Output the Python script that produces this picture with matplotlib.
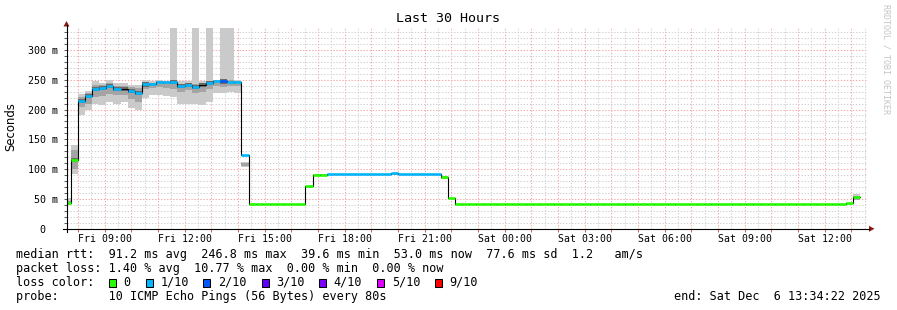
import numpy as np
import matplotlib
matplotlib.use("Agg")
import matplotlib.pyplot as plt
from matplotlib.patches import Polygon, Rectangle
from matplotlib.lines import Line2D

# ---- data (hours since Fri 00:00, 16 min consolidated bins) ----
first_bin = 7 + 28 / 60
bin_len = 16 / 60
t_end = 24 + 13 + 34 / 60 + 22 / 3600
t_start = t_end - 30

# median rtt in ms for every bin
median = ([44, 115, 214.5, 222, 235, 236, 240, 234, 234, 231, 228, 242, 242,
           245.5, 245.5, 245.5, 239, 241, 238, 241, 244, 247, 247, 246, 246, 123]
          + [40.8] * 8 + [71, 91, 91] + [91.5] * 9 + [93] + [91.5] * 6
          + [87, 51.5] + [40.8] * 55 + [42.5, 53])

# loss color index per bin (-1 = no colour, only the black line)
loss = ([0, 0, 1, 1, 1, 1, 1, 1, -1, 1, 1, 1, 1, 1, 1, 1, 1, 1, 1, -1, 1, 1, 2, 1, 1, 1]
        + [0] * 8 + [0, 0, 0] + [1] * 9 + [1] + [1] * 6 + [0, 0] + [0] * 55 + [0, 0])

# smoke: full range of the pings
smoke_lo = ([40, 92, 191, 199, 210, 208, 213, 210, 213, 202, 199, 220, 224,
             224, 222, 221, 210, 210, 210, 207, 213, 228, 227, 230, 228, 104]
            + [40.5] * 8 + [68, 89.5, 89.5] + [90] * 9 + [90.5] + [90] * 6
            + [84, 50] + [40.5] * 55 + [42, 48])
smoke_hi = ([51, 140, 226, 231, 247, 245, 249, 244, 244, 241, 241, 249, 248,
             249, 247, 337, 247, 247, 337, 247, 337, 249, 337, 337, 249, 112]
            + [41] * 8 + [72, 92, 92] + [92] * 9 + [93] + [92] * 6
            + [88, 52] + [41] * 55 + [43, 58])
# smoke: inner pings (darker)
core_lo = ([42, 101, 205, 210, 221, 222, 226, 224, 224, 218, 212, 234, 236,
            238, 236, 234, 230, 232, 228, 230, 234, 240, 238, 240, 240, 106]
           + [40.5] * 8 + [68, 89.5, 89.5] + [90] * 9 + [90.5] + [90] * 6
           + [84, 50] + [40.5] * 55 + [42, 48])
core_hi = ([47, 132, 221, 227, 241, 241, 245, 240, 240, 237, 236, 246, 245,
            247, 246, 249, 243, 244, 243, 244, 247, 249, 249, 249, 248, 110]
           + [41] * 8 + [72, 92, 92] + [92] * 9 + [93] + [92] * 6
           + [88, 52] + [41] * 55 + [43, 55])

loss_labels = ["0", "1/10", "2/10", "3/10", "4/10", "5/10", "9/10"]
loss_colors = ["#26ff00", "#00b8ff", "#0059ff", "#5e00ff", "#7e00ff", "#dd00ff", "#ff0000"]

tick_hours = [9, 12, 15, 18, 21, 24, 27, 30, 33, 36]
tick_labels = ["Fri 09:00", "Fri 12:00", "Fri 15:00", "Fri 18:00", "Fri 21:00",
               "Sat 00:00", "Sat 03:00", "Sat 06:00", "Sat 09:00", "Sat 12:00"]

legend_lines = [
    "median rtt:  91.2 ms avg  246.8 ms max  39.6 ms min  53.0 ms now  77.6 ms sd  1.2   am/s",
    "packet loss: 1.40 % avg  10.77 % max  0.00 % min  0.00 % now",
]
probe_text = "probe:       10 ICMP Echo Pings (56 Bytes) every 80s"
end_text = "end: Sat Dec  6 13:34:22 2025"

# ---- figure ----
W, H = 897, 310
MONO = "DejaVu Sans Mono"


def fx(x):
    return x / W


def fy(y):
    return 1 - y / H


fig = plt.figure(figsize=(W / 100, H / 100), dpi=100)
fig.patch.set_facecolor("white")
y0, ytop = 228.8, 27.5
ax = fig.add_axes([fx(66.5), fy(y0), 800 / W, (y0 - ytop) / H])
ax.set_xlim(t_start, t_end)
ax.set_ylim(0, 337.5)
for s in ax.spines.values():
    s.set_visible(False)

# grid
minor_c, major_c = "#d2d2d2", "#f4aaaa"
for h in np.arange(8, 38, 0.5):
    c = major_c if h == int(h) else minor_c
    ax.axvline(h, color=c, lw=0.75, ls=(0, (1.3, 1.6)), zorder=1)
for v in range(10, 337, 10):
    c = major_c if v % 50 == 0 else minor_c
    ax.axhline(v, color=c, lw=0.75, ls=(0, (1.3, 1.6)), zorder=1)

n = len(median)
starts = first_bin + np.arange(n) * bin_len
med = np.array(median)
lo, hi = np.array(smoke_lo), np.array(smoke_hi)
clo, chi = np.array(core_lo), np.array(core_hi)

ax.bar(starts, hi - lo, bottom=lo, width=bin_len, align="edge", color="#cacaca", lw=0, zorder=2)
ax.bar(starts, chi - clo, bottom=clo, width=bin_len, align="edge", color="#a4a4a4", lw=0, zorder=2)
# darkest pings sit right around the median where the spread is wide
wide = (chi - clo) > 10
ax.bar(starts[wide], 7, bottom=med[wide] - 3.5, width=bin_len, align="edge",
       color="#6a6a6a", lw=0, zorder=2)

edges = np.append(starts, starts[-1] + bin_len)
ax.step(edges, np.append(med, med[-1]), where="post", color="black", lw=0.8, zorder=3)

lidx = np.array(loss)
for i, c in enumerate(loss_colors):
    m = lidx == i
    if m.any():
        ax.hlines(med[m], starts[m], starts[m] + bin_len, colors=c, lw=1.9, zorder=4)

# ticks
ax.set_xticks(tick_hours)
ax.set_xticklabels(tick_labels, fontfamily=MONO, fontsize=7.1)
ax.set_xticks(np.arange(8, 38, 1), minor=True)
ax.tick_params(axis="x", which="both", direction="out", length=2.5, width=0.75,
               color="#e06060", pad=1.2)
ax.set_yticks(range(0, 301, 50))
ax.set_yticklabels(["0  "] + [f"{v} m" for v in range(50, 301, 50)], fontfamily=MONO, fontsize=7.2)
ax.set_yticks(range(10, 337, 10), minor=True)
ax.tick_params(axis="y", which="both", direction="out", length=2.5, width=0.75,
               color="#606060", pad=3.5)

# axes lines and arrows
arrow_c = "#8b1a1a"
fig.add_artist(Line2D([fx(66.5), fx(66.5)], [fy(232), fy(25)], color="black", lw=0.8))
fig.add_artist(Line2D([fx(62.5), fx(869)], [fy(y0), fy(y0)], color="black", lw=0.8))
fig.add_artist(Polygon([(fx(66.5), fy(21)), (fx(63.5), fy(26.5)), (fx(69.5), fy(26.5))],
                       closed=True, color=arrow_c, lw=0))
fig.add_artist(Polygon([(fx(874.5), fy(y0)), (fx(869), fy(y0 - 3)), (fx(869), fy(y0 + 3))],
                       closed=True, color=arrow_c, lw=0))

# texts
fig.text(fx(448), fy(19), "Last 30 Hours", family=MONO, fontsize=9.6, ha="center", va="center")
fig.text(fx(11), fy(127), "Seconds", fontsize=8.4, rotation=90, ha="center", va="center")
fig.text(fx(886), fy(4), "RRDTOOL / TOBI OETIKER", family=MONO, fontsize=6.0, color="#c4c4c4",
         rotation=-90, ha="center", va="top")

leg_fs = 8.45
fig.text(fx(16), fy(254.3), legend_lines[0], family=MONO, fontsize=leg_fs, va="center")
fig.text(fx(16), fy(268.3), legend_lines[1], family=MONO, fontsize=leg_fs, va="center")
fig.text(fx(16), fy(282.3), "loss color:", family=MONO, fontsize=leg_fs, va="center")
sq_x = [109, 145.7, 203.3, 261.7, 319.3, 377.3, 435]
for x, lab, c in zip(sq_x, loss_labels, loss_colors):
    fig.add_artist(Rectangle((fx(x), fy(286.5)), 7 / W, 7.5 / H, facecolor=c,
                             edgecolor="black", lw=0.75))
    fig.text(fx(x + 14.5), fy(282.3), lab, family=MONO, fontsize=leg_fs, va="center")
fig.text(fx(16), fy(296.2), probe_text, family=MONO, fontsize=leg_fs, va="center")
fig.text(fx(880.5), fy(296.2), end_text, family=MONO, fontsize=leg_fs, va="center", ha="right")

fig.savefig("out.png", dpi=100, facecolor="white")
